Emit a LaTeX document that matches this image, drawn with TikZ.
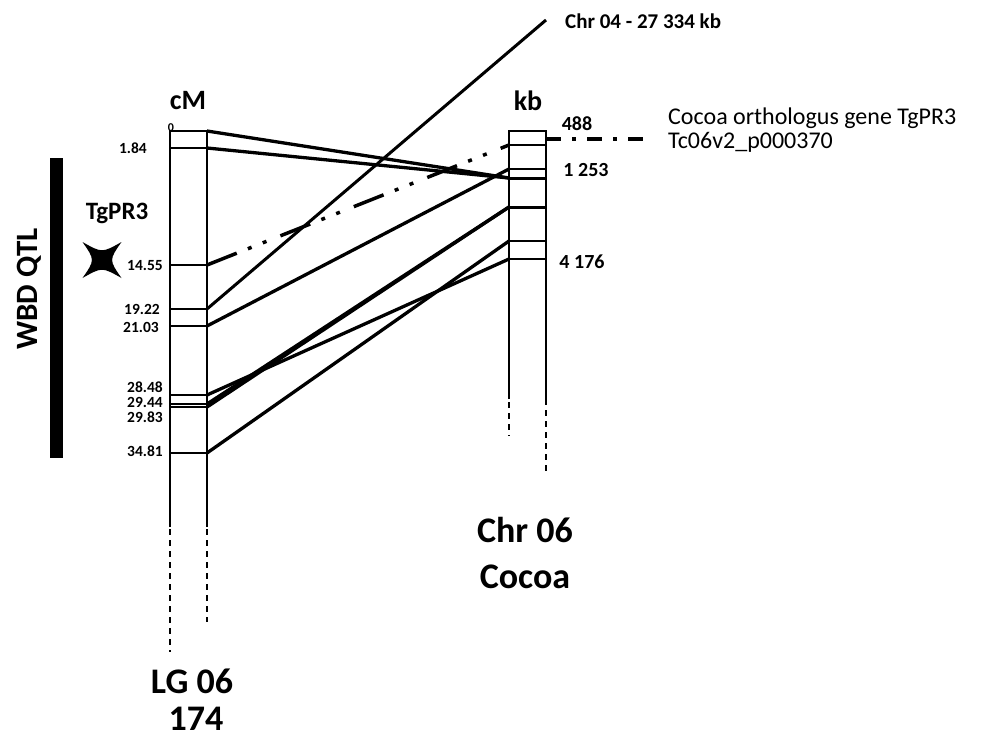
\documentclass[tikz,border=0pt]{standalone}
\usepackage{fontspec}
\setmainfont{Carlito}
\begin{document}
\begin{tikzpicture}[x=1pt,y=-1pt,
  bar/.style={line width=1.5pt},
  tick/.style={line width=1.5pt},
  thicktick/.style={line width=3pt},
  link/.style={line width=3.3pt},
  barend/.style={line width=1.5pt, dash pattern=on 6pt off 5pt},
  mk/.style={font=\bfseries\fontsize{15.5}{17}\selectfont, anchor=east, inner sep=0pt},
  kbl/.style={font=\bfseries\fontsize{20}{22}\selectfont, inner sep=0pt},
  big/.style={font=\bfseries\fontsize{36}{40}\selectfont, inner sep=0pt},
  dashdot/.style={line width=3.5pt, dash pattern=on 32pt off 12pt on 4pt off 12pt on 4pt off 15pt},
  hdash/.style={line width=4pt, dash pattern=on 15pt off 11pt on 4pt off 11pt}]
\useasboundingbox (0,0) rectangle (999,740);

% ---- left bar LG 06
\draw[bar] (170,527) -- (170,131) -- (207,131) -- (207,527);
\draw[barend] (170,529) -- (170,652);
\draw[barend] (207,529) -- (207,622);
\foreach \n/\y in {a/148,b/265,c/309,d/326,e/395,f/404,g/407,h/453}{
  \draw[tick] (170,\y) -- (207,\y) coordinate (l\n);
}
\coordinate (l0) at (207,131);

% ---- right bar Chr 06
\draw[bar] (509,399) -- (509,131) -- (546,131) -- (546,405);
\draw[barend] (509,402) -- (509,436);
\draw[barend] (546,410) -- (546,472);
\foreach \n/\y in {a/145,b/169,e/241,f/259}{
  \draw[tick] (509,\y) coordinate (r\n) -- (546,\y);
}
\foreach \n/\y in {c/178,d/207}{
  \draw[thicktick] (509,\y) coordinate (r\n) -- (546,\y);
}
\coordinate (rtop) at (546,139);
\coordinate (hend) at (652,139);
\coordinate (c4) at (546,20);

% ---- connectors
\draw[link] (l0) -- (rc);
\draw[link] (la) -- (rc);
\draw[dashdot] (lb) -- (ra);
\draw[line width=3pt] (lc) -- (c4);
\draw[link] (ld) -- (rb);
\draw[link] (le) -- (rf);
\draw[link] (lf) -- (rd);
\draw[link] (lg) -- (rd);
\draw[link] (lh) -- (re);
\draw[hdash] (rtop) -- (hend);

% ---- QTL bar and star
\fill (50,158) rectangle (63,458);
\node[font=\bfseries\fontsize{31}{34}\selectfont, rotate=90, inner sep=0pt] (qtl) at (29,289) {WBD QTL};
\coordinate (star) at (102,260);
\fill (star) ++(-19.5,-18) .. controls (102,253) .. (121.5,242)
      .. controls (109,260) .. (121.5,278)
      .. controls (102,267) .. (82.5,278)
      .. controls (95,260) .. (82.5,242) -- cycle;
\node[font=\bfseries\fontsize{25}{28}\selectfont, inner sep=0pt] (tg) at (117,213) {TgPR3};

% ---- axis titles
\node[font=\bfseries\fontsize{28}{30}\selectfont, inner sep=0pt] (cm) at (188,101) {cM};
\node[font=\bfseries\fontsize{28}{30}\selectfont, inner sep=0pt] (kb) at (528,101) {kb};

% ---- marker labels
\node[font=\bfseries\fontsize{12}{13}\selectfont, inner sep=0pt] (m0) at (171,128) {0};
\node[mk] (m1) at (147,148) {1.84};
\node[mk] (m2) at (163,266) {14.55};
\node[mk] (m3) at (160,309) {19.22};
\node[mk] (m4) at (159,327) {21.03};
\node[mk] (m5) at (163,387) {28.48};
\node[mk] (m6) at (163,402) {29.44};
\node[mk] (m7) at (163,417) {29.83};
\node[mk] (m8) at (163,451) {34.81};

\node[kbl] (k1) at (577,124) {488};
\node[kbl] (k2) at (586,170) {1 253};
\node[kbl] (k3) at (582,262) {4 176};
\node[kbl, font=\bfseries\fontsize{21}{23}\selectfont, anchor=west] (k4) at (565,21) {Chr 04 - 27 334 kb};

\node[font=\fontsize{24}{24}\selectfont, anchor=west, inner sep=0pt, align=left] (gene) at (668,130)
  {Cocoa orthologus gene TgPR3\\Tc06v2\_p000370};

% ---- chromosome titles
\node[big] (lg1) at (192,681) {LG 06};
\node[big, anchor=base, text depth=0pt] (lg2) at (196,730) {174};
\node[big] (ch1) at (525,530) {Chr 06};
\node[big] (ch2) at (525,577) {Cocoa};
\end{tikzpicture}
\end{document}
